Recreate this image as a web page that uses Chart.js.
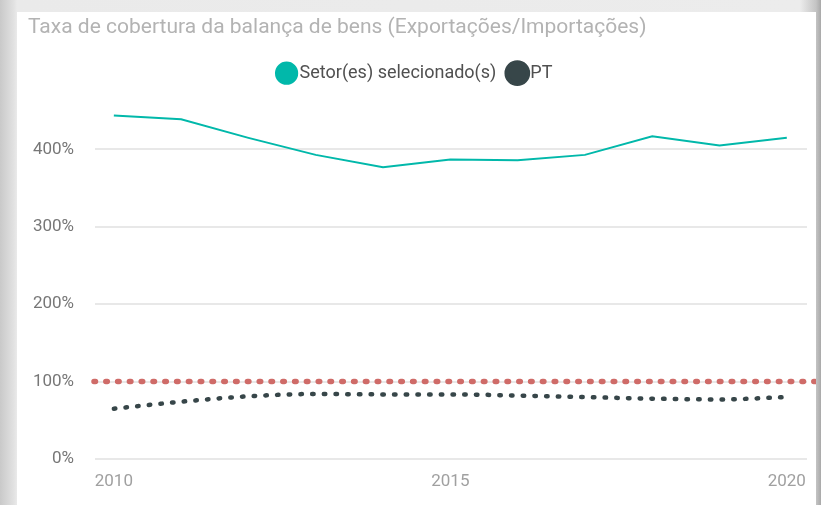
<!DOCTYPE html>
<html>
<head>
<meta charset="utf-8">
<script src="https://cdn.jsdelivr.net/npm/chart.js@4.4.0/dist/chart.umd.min.js"></script>
<style>
  html, body { margin: 0; padding: 0; }
  body {
    width: 821px; height: 505px; overflow: hidden; position: relative;
    background: linear-gradient(to right, #c9c9c9 0px, #e2e2e2 14px, #eaeaea 17px, #ececec 800px, #c4c4c4 816px, #a9a9a9 821px);
  }
  #panel {
    position: absolute; left: 17px; top: 12px; width: 799px; height: 493px;
    background: #fff;
  }
</style>
</head>
<body>
<div id="panel"><canvas id="cobertura-chart" width="799" height="493"></canvas></div>
<script>
var years = [2010, 2011, 2012, 2013, 2014, 2015, 2016, 2017, 2018, 2019, 2020];
var setorValues = [444, 439, 415, 393, 377, 387, 386, 393, 417, 405, 415];
var ptValues = [65, 74, 81, 84, 83.5, 83.5, 82, 80, 78, 77, 80];
var refLine = 100;
var yTicks = [0, 100, 200, 300, 400];
var xTicks = [2010, 2015, 2020];

var fontFamily = "Roboto, 'DejaVu Sans', sans-serif";

function points(vals) {
  return years.map(function (yr, i) { return { x: yr, y: vals[i] }; });
}

// red dotted line at 100%
var refLinePlugin = {
  id: "refLine",
  beforeDatasetsDraw: function (chart) {
    var ctx = chart.ctx;
    var area = chart.chartArea;
    var y = chart.scales.y.getPixelForValue(refLine);
    ctx.save();
    ctx.strokeStyle = "#cf6b68";
    ctx.lineWidth = 5.5;
    ctx.lineCap = "round";
    ctx.setLineDash([1.5, 10.3]);
    ctx.beginPath();
    ctx.moveTo(area.left - 1, y);
    ctx.lineTo(area.right + 14, y);
    ctx.stroke();
    ctx.restore();
  }
};

var ctx = document.getElementById("cobertura-chart").getContext("2d");
var coberturaChart = new Chart(ctx, {
  type: "line",
  data: {
    datasets: [{
      label: "Setor(es) selecionado(s)",
      data: points(setorValues),
      borderColor: "#01b8aa",
      backgroundColor: "#01b8aa",
      borderWidth: 2,
      pointRadius: 0,
      tension: 0
    }, {
      label: "PT",
      data: points(ptValues),
      borderColor: "#374649",
      backgroundColor: "#374649",
      borderWidth: 4.5,
      borderDash: [1.5, 10.2],
      borderCapStyle: "round",
      pointRadius: 0,
      cubicInterpolationMode: "monotone"
    }]
  },
  plugins: [refLinePlugin],
  options: {
    responsive: false,
    animation: false,
    layout: { padding: { left: 11, right: 9, top: 0, bottom: 0 } },
    plugins: {
      title: {
        display: true,
        text: "Taxa de cobertura da balança de bens (Exportações/Importações)",
        align: "start",
        color: "#b3b3b3",
        font: { family: fontFamily, size: 21, weight: "normal" },
        padding: { top: 3, bottom: 7 }
      },
      legend: {
        display: true,
        labels: {
          usePointStyle: true,
          pointStyle: "circle",
          boxHeight: 15,
          boxWidth: 8,
          color: "#505050",
          font: { family: fontFamily, size: 18 },
          padding: 17
        }
      },
      tooltip: { enabled: false }
    },
    scales: {
      x: {
        type: "linear",
        min: 2009.72,
        max: 2020.3,
        grid: { display: false },
        border: { display: false },
        afterBuildTicks: function (scale) {
          scale.ticks = xTicks.map(function (v) { return { value: v }; });
        },
        afterFit: function (scale) { scale.height = 46; },
        ticks: {
          color: "#a0a0a0",
          font: { family: fontFamily, size: 17 },
          maxRotation: 0,
          padding: 5,
          callback: function (v) { return String(v); }
        }
      },
      y: {
        min: 0,
        max: 474,
        grid: { color: "#e8e8e8", lineWidth: 2, drawTicks: false },
        border: { display: false },
        afterBuildTicks: function (scale) {
          scale.ticks = yTicks.map(function (v) { return { value: v }; });
        },
        afterFit: function (scale) { scale.width = 67; },
        ticks: {
          color: "#777777",
          font: { family: fontFamily, size: 17 },
          padding: 21,
          callback: function (v) { return v + "%"; }
        }
      }
    }
  }
});
</script>
</body>
</html>
